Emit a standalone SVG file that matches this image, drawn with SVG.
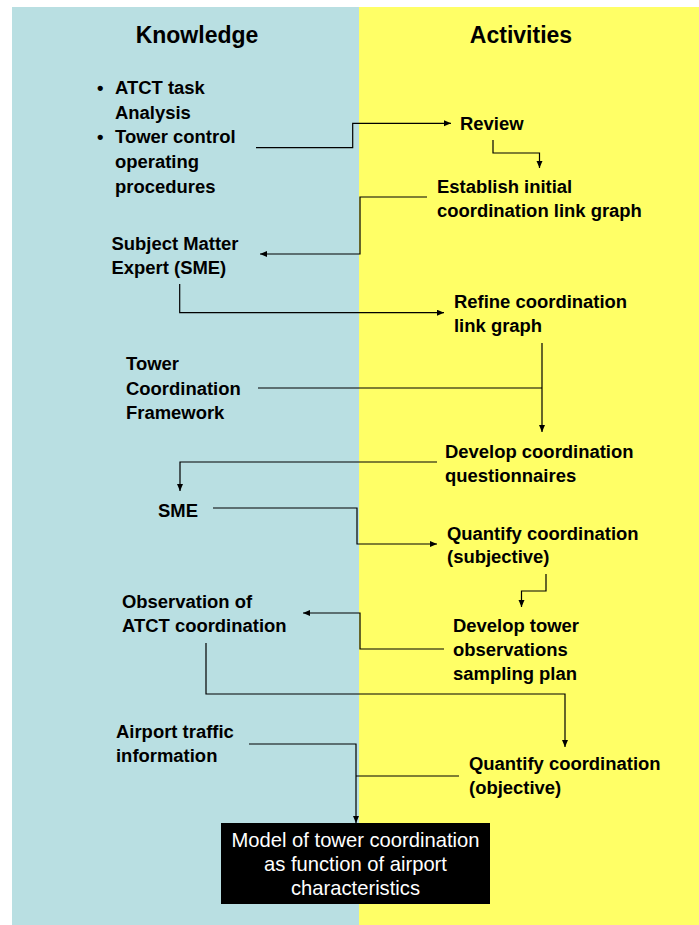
<svg xmlns="http://www.w3.org/2000/svg" width="699" height="925" viewBox="0 0 699 925">
<style>
.t{font-family:"Liberation Sans",Arial,sans-serif;font-size:18.45px;font-weight:bold;fill:#000}
.h{font-family:"Liberation Sans",Arial,sans-serif;font-size:23px;font-weight:bold;fill:#000;text-anchor:middle}
.w{font-family:"Liberation Sans",Arial,sans-serif;font-size:20.2px;fill:#fff;text-anchor:middle}
.c{fill:none;stroke:#000;stroke-width:1.2}
.a{marker-end:url(#ar)}
</style>
<defs>
<marker id="ar" markerUnits="userSpaceOnUse" markerWidth="8" markerHeight="7" refX="7" refY="3" orient="auto">
<path d="M0,0 L7,3 L0,6 z" fill="#000"/>
</marker>
</defs>
<g id="panels">
<rect x="12" y="7" width="347" height="918" fill="#b9dfe2"/>
<rect x="359" y="7" width="340" height="918" fill="#ffff66"/>
<text class="h" x="197" y="43">Knowledge</text>
<text class="h" x="521" y="43">Activities</text>
</g>
<g id="connectors">
<path class="c a" d="M256,147.7 H352.7 V123.3 H451"/>
<path class="c a" d="M493,140 V153 H539.5 V168"/>
<path class="c a" d="M427,197 H360 V254 H260"/>
<path class="c a" d="M179.7,284 V312.7 H444"/>
<path class="c a" d="M542,343 V432"/>
<path class="c" d="M258,388 H542"/>
<path class="c a" d="M437,462 H180 V491"/>
<path class="c a" d="M213,508 H357 V544 H437"/>
<path class="c a" d="M546,574 V591 H521.5 V607"/>
<path class="c a" d="M444,649 H360 V613 H303"/>
<path class="c a" d="M206,643 V694 H565 V747"/>
<path class="c a" d="M249,744 H356 V823"/>
<path class="c" d="M459,776 H356"/>
</g>
<g id="n-atct">
<text class="t" x="97" y="94">•</text>
<text class="t" x="115" y="94">ATCT task</text>
<text class="t" x="115" y="118.8">Analysis</text>
<text class="t" x="97" y="143.3">•</text>
<text class="t" x="115" y="143.3">Tower control</text>
<text class="t" x="115" y="168">operating</text>
<text class="t" x="115" y="192.5">procedures</text>
</g>
<g id="n-review"><text class="t" x="460" y="129.5">Review</text></g>
<g id="n-establish">
<text class="t" x="437" y="192.7">Establish initial</text>
<text class="t" x="437" y="216.5">coordination link graph</text>
</g>
<g id="n-sme1">
<text class="t" x="111.5" y="250">Subject Matter</text>
<text class="t" x="111.5" y="273.5">Expert (SME)</text>
</g>
<g id="n-refine">
<text class="t" x="454" y="307.7">Refine coordination</text>
<text class="t" x="454" y="331.7">link graph</text>
</g>
<g id="n-framework">
<text class="t" x="126" y="370">Tower</text>
<text class="t" x="126" y="395">Coordination</text>
<text class="t" x="126" y="419">Framework</text>
</g>
<g id="n-questionnaires">
<text class="t" x="445" y="458">Develop coordination</text>
<text class="t" x="445" y="482">questionnaires</text>
</g>
<g id="n-sme2"><text class="t" x="158" y="517">SME</text></g>
<g id="n-subjective">
<text class="t" x="447" y="540">Quantify coordination</text>
<text class="t" x="447" y="563">(subjective)</text>
</g>
<g id="n-observation">
<text class="t" x="122" y="608">Observation of</text>
<text class="t" x="122" y="632">ATCT coordination</text>
</g>
<g id="n-sampling">
<text class="t" x="453" y="632">Develop tower</text>
<text class="t" x="453" y="656">observations</text>
<text class="t" x="453" y="680">sampling plan</text>
</g>
<g id="n-traffic">
<text class="t" x="116" y="738">Airport traffic</text>
<text class="t" x="116" y="762">information</text>
</g>
<g id="n-objective">
<text class="t" x="469" y="770">Quantify coordination</text>
<text class="t" x="469" y="794">(objective)</text>
</g>
<g id="n-model">
<rect x="221" y="823" width="269" height="81" fill="#000"/>
<text class="w" x="355.5" y="847">Model of tower coordination</text>
<text class="w" x="355.5" y="871">as function of airport</text>
<text class="w" x="355.5" y="895">characteristics</text>
</g>
</svg>
